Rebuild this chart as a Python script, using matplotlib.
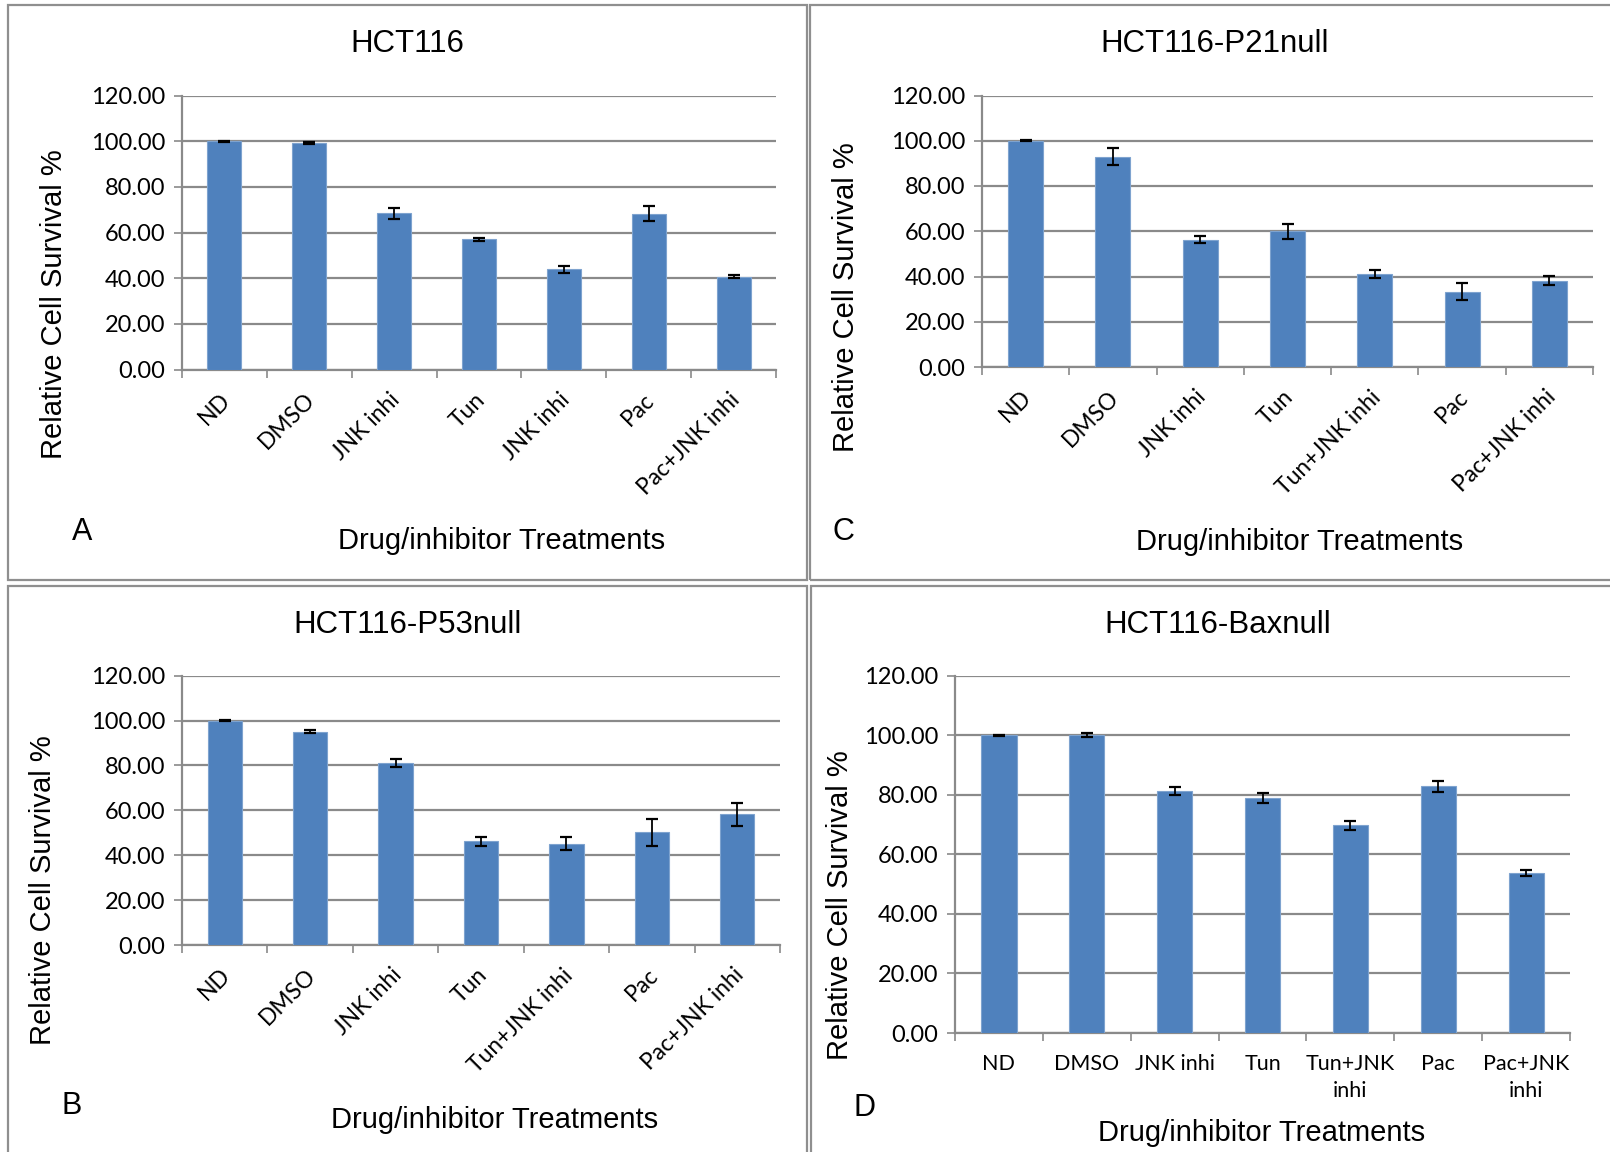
"""
Relative cell survival of HCT116 lines after drug/inhibitor treatments.
Four bar-chart panels (A-D) with SEM error bars, saved to out.png.
"""

import matplotlib
matplotlib.use("Agg")
import matplotlib.pyplot as plt
import matplotlib.transforms as mtransforms
from matplotlib.patches import Rectangle

W, H = 1610, 1152

# ---- data ----
labels_a = ["ND", "DMSO", "JNK inhi", "Tun", "JNK inhi", "Pac", "Pac+JNK inhi"]
labels_bc = ["ND", "DMSO", "JNK inhi", "Tun", "Tun+JNK inhi", "Pac", "Pac+JNK inhi"]
labels_d = ["ND", "DMSO", "JNK inhi", "Tun", "Tun+JNK\ninhi", "Pac", "Pac+JNK\ninhi"]

survival_a = [100.0, 99.2, 68.4, 57.0, 43.8, 68.2, 40.7]
error_a = [0.2, 0.5, 2.3, 0.8, 1.5, 3.3, 0.5]

survival_b = [100.0, 95.1, 81.1, 46.3, 45.2, 50.3, 58.3]
error_b = [0.2, 0.6, 2.0, 2.0, 2.8, 6.0, 5.1]

survival_c = [100.0, 93.0, 56.2, 59.9, 41.0, 33.3, 38.2]
error_c = [0.2, 3.6, 1.6, 3.2, 1.8, 3.9, 1.9]

survival_d = [100.0, 100.0, 81.4, 78.9, 69.8, 82.8, 53.7]
error_d = [0.2, 0.6, 1.3, 1.8, 1.5, 1.7, 1.0]

y_ticks = [0, 20, 40, 60, 80, 100, 120]

BAR = "#4F81BD"
BAR_EDGE = "#7EA3CF"
GRID = "#8A8A8A"
ARIAL = "Liberation Sans"
CALIBRI = "Lato"

fig = plt.figure(figsize=(W / 100, H / 100), dpi=100)


def px_axes(x0, y0, x1, y1):
    return fig.add_axes([x0 / W, 1 - y1 / H, (x1 - x0) / W, (y1 - y0) / H])


def px_text(x, y, s, **kw):
    fig.text(x / W, 1 - y / H, s, ha="center", va="center", family=ARIAL, **kw)


def px_frame(x0, y0, x1, y1):
    fig.patches.append(Rectangle((x0 / W, 1 - y1 / H), (x1 - x0) / W, (y1 - y0) / H,
                                 transform=fig.transFigure, fill=False,
                                 edgecolor="#8F8F8F", linewidth=1.6))


def draw_panel(ax, labels, values, errors, rotate):
    x = list(range(len(values)))
    ax.bar(x, values, width=0.4, color=BAR, edgecolor=BAR_EDGE, linewidth=0.8, zorder=3)
    ax.errorbar(x, values, yerr=errors, fmt="none", ecolor="black",
                elinewidth=1.3, capsize=4.3, capthick=1.6, zorder=4)
    ax.set_xlim(-0.5, len(values) - 0.5)
    ax.set_ylim(0, 120)
    ax.set_yticks(y_ticks)
    ax.set_yticklabels([f"{v:.2f}" for v in y_ticks], family=CALIBRI, fontsize=17)
    ax.yaxis.grid(True, color=GRID, linewidth=1.6)
    ax.set_axisbelow(True)
    for side in ["top", "right"]:
        ax.spines[side].set_visible(False)
    for side in ["left", "bottom"]:
        ax.spines[side].set_color(GRID)
        ax.spines[side].set_linewidth(1.6)
    ax.tick_params(axis="y", length=6, width=1.2, color=GRID, pad=6)
    ax.set_xticks(x)
    ax.set_xticks([i - 0.5 for i in range(len(values) + 1)], minor=True)
    ax.tick_params(axis="x", which="minor", length=6, width=1.2, color=GRID)
    if rotate:
        ax.tick_params(axis="x", which="major", length=0, pad=14)
        ax.set_xticklabels(labels, rotation=45, ha="right", va="top",
                           family=CALIBRI, fontsize=16.5)
        # nudge the slanted labels right so they end near the bar centre
        shift = mtransforms.ScaledTranslation(0.1, 0, fig.dpi_scale_trans)
        for lab in ax.get_xticklabels():
            lab.set_transform(lab.get_transform() + shift)
    else:
        ax.tick_params(axis="x", which="major", length=0, pad=15)
        ax.set_xticklabels(labels, family=CALIBRI, fontsize=15.5, linespacing=1.45)


# panel frames
px_frame(8, 5, 807, 580)
px_frame(810, 5, 1614, 580)
px_frame(8, 586, 807, 1160)
px_frame(811, 586, 1614, 1160)

# A: HCT116
ax_a = px_axes(182, 95.5, 776, 369.5)
draw_panel(ax_a, labels_a, survival_a, error_a, rotate=True)
px_text(407, 44, "HCT116", fontsize=22.5)
px_text(54, 304, "Relative Cell Survival %", fontsize=21, rotation=90)
px_text(502, 541, "Drug/inhibitor Treatments", fontsize=21)
px_text(82, 532, "A", fontsize=22)

# C: HCT116-P21null
ax_c = px_axes(982, 95.5, 1593, 367)
draw_panel(ax_c, labels_bc, survival_c, error_c, rotate=True)
px_text(1215, 44, "HCT116-P21null", fontsize=22.5)
px_text(846, 297, "Relative Cell Survival %", fontsize=21, rotation=90)
px_text(1300, 542, "Drug/inhibitor Treatments", fontsize=21)
px_text(843, 532, "C", fontsize=22)

# B: HCT116-P53null
ax_b = px_axes(182, 675.7, 780, 945)
draw_panel(ax_b, labels_bc, survival_b, error_b, rotate=True)
px_text(408, 625, "HCT116-P53null", fontsize=22.5)
px_text(43, 890, "Relative Cell Survival %", fontsize=21, rotation=90)
px_text(495, 1120, "Drug/inhibitor Treatments", fontsize=21)
px_text(72, 1106, "B", fontsize=22)

# D: HCT116-Baxnull
ax_d = px_axes(955, 675.7, 1570, 1033)
draw_panel(ax_d, labels_d, survival_d, error_d, rotate=False)
px_text(1218, 625, "HCT116-Baxnull", fontsize=22.5)
px_text(840, 905, "Relative Cell Survival %", fontsize=21, rotation=90)
px_text(1262, 1133, "Drug/inhibitor Treatments", fontsize=21)
px_text(865, 1108, "D", fontsize=22)

fig.savefig("out.png", dpi=100)
